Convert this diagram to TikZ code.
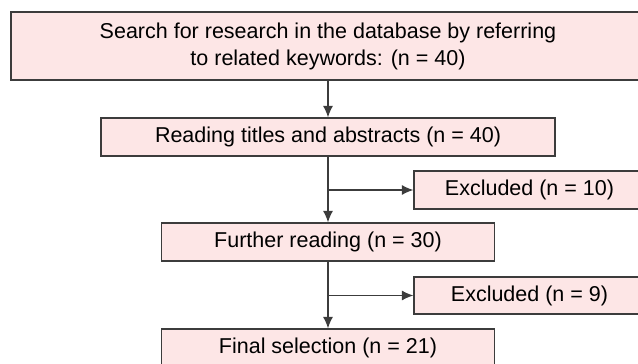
\documentclass[tikz,border=0pt]{standalone}
\usepackage{fontspec}
\setmainfont{Liberation Sans}
\usetikzlibrary{arrows.meta}
\definecolor{boxFill}{RGB}{253,230,230}
\definecolor{boxLine}{RGB}{60,60,60}
\tikzset{
    stagebox/.style={draw=boxLine, fill=boxFill, line width=1.2pt, rectangle,
        inner sep=0pt, align=center, font=\fontsize{21.5}{27}\selectfont},
    flowline/.style={-{Latex[length=11.5pt,width=10pt]}, draw=boxLine, line width=1.2pt}
}
\begin{document}
\begin{tikzpicture}[x=1pt, y=-1pt]
        \useasboundingbox (0,0) rectangle (638,364);
        \clip (0,0) rectangle (638,364);
        \def\midX{328}
        \def\sideX{529.5}
        \node[stagebox, minimum width=634pt, minimum height=68pt] (search) at (\midX,46)
            {Search for research in the database by referring\\to related keywords: (n = 40)};
        \node[stagebox, minimum width=454pt, minimum height=38pt] (titles) at (\midX,137)
            {Reading titles and abstracts (n = 40)};
        \node[stagebox, minimum width=231pt, minimum height=38pt] (exclA) at (\sideX,190)
            {Excluded (n = 10)};
        \node[stagebox, minimum width=333pt, minimum height=38pt] (further) at (\midX,242)
            {Further reading (n = 30)};
        \node[stagebox, minimum width=231pt, minimum height=37pt] (exclB) at (\sideX,295.5)
            {Excluded (n = 9)};
        \node[stagebox, minimum width=333pt, minimum height=38pt] (final) at (\midX,348)
            {Final selection (n = 21)};
        \draw[flowline] (search) -- (titles);
        \draw[flowline] (titles) -- (further);
        \draw[flowline] (titles.south |- exclA.west) -- (exclA);
        \draw[flowline] (further) -- (final);
        \draw[flowline] (further.south |- exclB.west) -- (exclB);
    \end{tikzpicture}
\end{document}
